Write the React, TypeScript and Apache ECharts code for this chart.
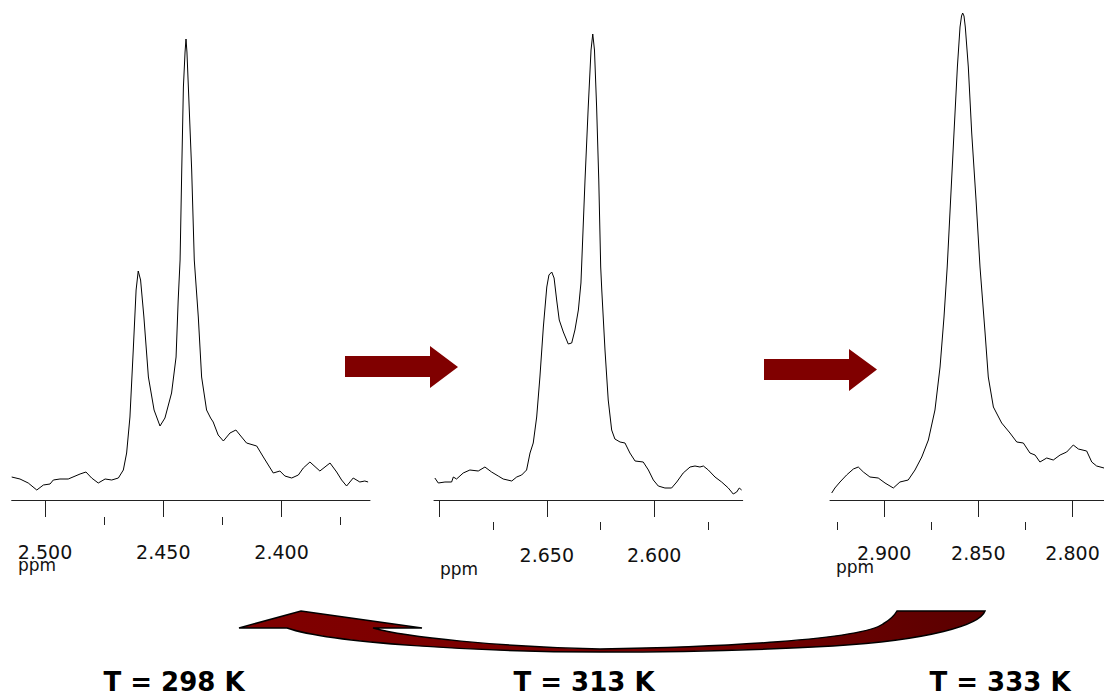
import React, { useEffect, useRef } from "react";
import * as echarts from "echarts";

// ---- T = 298 K spectrum (ppm, intensity a.u.)
const ppm298 = [2.5141, 2.5106, 2.5071, 2.5035, 2.5007, 2.4979, 2.4965, 2.4937, 2.4902, 2.4852, 2.4827, 2.4803, 2.4775, 2.4746, 2.4718, 2.469, 2.4669, 2.4655, 2.4641, 2.4627, 2.4615, 2.4606, 2.4596, 2.4582, 2.4563, 2.4539, 2.4514, 2.4493, 2.4465, 2.4446, 2.4437, 2.4429, 2.4422, 2.4415, 2.4408, 2.4404, 2.44, 2.4394, 2.438, 2.4369, 2.4352, 2.4338, 2.4317, 2.43, 2.4289, 2.4268, 2.4246, 2.4218, 2.4193, 2.4169, 2.4148, 2.4105, 2.4077, 2.4035, 2.4007, 2.3986, 2.3957, 2.3929, 2.3908, 2.388, 2.3838, 2.3795, 2.3767, 2.3746, 2.3725, 2.3697, 2.3669, 2.3648, 2.3634];
const int298 = [23, 21, 17, 10, 15, 16, 20, 21, 21, 26, 28, 22, 17, 21, 20, 22, 30, 47, 83, 150, 210, 229, 220, 183, 123, 90, 74, 82, 107, 143, 200, 240, 330, 413, 448, 461, 448, 413, 330, 240, 183, 123, 90, 82, 78, 65, 59, 67, 70, 63, 57, 54, 43, 27, 29, 24, 22, 25, 32, 38, 29, 37, 28, 20, 14, 22, 18, 19, 18];

// ---- T = 313 K spectrum
const ppm313 = [2.7021, 2.7005, 2.6974, 2.6943, 2.6935, 2.692, 2.6889, 2.6858, 2.6819, 2.6788, 2.6757, 2.6726, 2.6703, 2.6663, 2.664, 2.6617, 2.6594, 2.6578, 2.6563, 2.6547, 2.6532, 2.6516, 2.65, 2.649, 2.6477, 2.6466, 2.6454, 2.6442, 2.6423, 2.64, 2.6384, 2.6369, 2.6353, 2.6341, 2.6338, 2.6322, 2.6307, 2.6294, 2.6286, 2.6278, 2.6268, 2.6258, 2.6249, 2.6244, 2.6229, 2.6214, 2.6198, 2.6183, 2.6159, 2.6136, 2.6113, 2.6089, 2.6051, 2.6027, 2.6004, 2.5981, 2.595, 2.5919, 2.5895, 2.5865, 2.5833, 2.581, 2.5787, 2.5771, 2.5748, 2.5717, 2.5686, 2.5655, 2.5632, 2.5616, 2.5604, 2.5593];
const int313 = [22, 17, 18, 18, 23, 21, 27, 30, 29, 33, 28, 24, 21, 19, 23, 25, 30, 47, 57, 83, 123, 173, 213, 225, 228, 222, 200, 180, 168, 156, 157, 170, 190, 217, 233, 320, 393, 450, 466, 450, 393, 320, 233, 210, 150, 100, 70, 61, 58, 57, 47, 39, 38, 30, 20, 14, 12, 12, 18, 27, 33, 34, 33, 34, 30, 23, 18, 12, 6, 8, 12, 10];

// ---- T = 333 K spectrum
const ppm333 = [2.9278, 2.9261, 2.9234, 2.9199, 2.9163, 2.9137, 2.911, 2.9075, 2.9031, 2.8995, 2.8951, 2.8916, 2.8872, 2.8836, 2.88, 2.8765, 2.873, 2.8703, 2.8682, 2.8665, 2.8647, 2.8629, 2.8611, 2.8597, 2.8589, 2.8583, 2.8576, 2.8569, 2.8553, 2.8535, 2.8512, 2.8491, 2.8464, 2.8447, 2.842, 2.8376, 2.8332, 2.8296, 2.8261, 2.8226, 2.8199, 2.8173, 2.8137, 2.8102, 2.8066, 2.8031, 2.7996, 2.7969, 2.7925, 2.7898, 2.7872, 2.7833];
const int333 = [7, 12, 18, 25, 31, 33, 28, 23, 22, 17, 12, 18, 20, 30, 43, 60, 90, 133, 183, 233, 300, 367, 433, 473, 484, 487, 484, 473, 433, 367, 300, 233, 167, 123, 93, 77, 67, 58, 57, 47, 45, 38, 42, 40, 45, 48, 55, 51, 49, 38, 34, 32];

// ---- axis ticks (ppm)
const labels298 = [2.5, 2.45, 2.4];
const minor298 = [2.475, 2.425, 2.375];
const labels313 = [2.65, 2.6];
const major313 = [2.7, 2.65, 2.6];
const minor313 = [2.675, 2.625, 2.575];
const labels333 = [2.9, 2.85, 2.8];
const minor333 = [2.925, 2.875, 2.825];

const temperatures = ["T = 298 K", "T = 313 K", "T = 333 K"];
const unitLabel = "ppm";

const FONT = "DejaVu Sans";

export default function App() {
  const ref = useRef<HTMLDivElement>(null);
  useEffect(() => {
    document.body.style.margin = "0";
    const chart = echarts.init(ref.current!, null, { renderer: "svg" });

    const panels = [
      { ppm: ppm298, ints: int298, min: 2.3626, max: 2.5141, left: 11.7, width: 358.3, offset: 17, labels: labels298, major: labels298, minor: minor298, margin: 25 },
      { ppm: ppm313, ints: int313, min: 2.5588, max: 2.7025, left: 434, width: 308.7, offset: 22, labels: labels313, major: major313, minor: minor313, margin: 23 },
      { ppm: ppm333, ints: int333, min: 2.7833, max: 2.9287, left: 830, width: 274, offset: 22, labels: labels333, major: labels333, minor: minor333, margin: 21 },
    ];

    const grid: any[] = [];
    const xAxis: any[] = [];
    const yAxis: any[] = [];
    const series: any[] = [];
    panels.forEach((p, i) => {
      grid.push({ left: p.left, width: p.width, top: 0, height: 500 });
      xAxis.push({
        type: "value", gridIndex: i, min: p.min, max: p.max, inverse: true, position: "bottom", offset: p.offset,
        splitLine: { show: false },
        axisLine: { show: true, lineStyle: { color: "#222", width: 1 } },
        axisTick: { show: true, length: 17, customValues: p.major, lineStyle: { color: "#222", width: 1 } },
        axisLabel: { show: true, customValues: p.labels, formatter: (v: number) => v.toFixed(3), fontSize: 19, fontFamily: FONT, color: "#111", margin: p.margin },
      });
      xAxis.push({
        type: "value", gridIndex: i, min: p.min, max: p.max, inverse: true, position: "bottom", offset: p.offset,
        splitLine: { show: false },
        axisLine: { show: false },
        axisTick: { show: true, length: 8, customValues: p.minor, lineStyle: { color: "#222", width: 1 } },
        axisLabel: { show: false },
      });
      yAxis.push({ type: "value", gridIndex: i, min: 0, max: 500, show: false, splitLine: { show: false } });
      series.push({
        type: "line", xAxisIndex: i * 2, yAxisIndex: i, showSymbol: false, symbol: "none",
        data: p.ppm.map((x, k) => [x, p.ints[k]]),
        lineStyle: { color: "#000", width: 1 },
        silent: true,
      });
    });

    echarts.graphic.registerShape(
      "curvedArrow",
      echarts.graphic.extendPath(
        "M 239 628 L 301 611 L 422 628 L 373 628 C 405 637, 500 647, 600 649 C 720 647, 860 640, 883 624 Q 893 618, 897 611 L 985 611 C 980 625, 930 640, 833 646 C 760 650, 680 652, 600 652 C 480 652, 330 643, 287 628 Z",
        {}
      ) as any
    );

    const arrowStyle = { fill: "#800000", stroke: "none" };
    const tStyle = { fontSize: 26, fontWeight: "bold", fontFamily: FONT, fill: "#000", align: "center", verticalAlign: "middle" };
    const graphic: any[] = [
      { type: "text", left: 18, top: 556, style: { text: unitLabel, fontSize: 17, fontFamily: FONT, fill: "#111" } },
      { type: "text", left: 440, top: 560, style: { text: unitLabel, fontSize: 17, fontFamily: FONT, fill: "#111" } },
      { type: "text", left: 836, top: 558, style: { text: unitLabel, fontSize: 17, fontFamily: FONT, fill: "#111" } },
      { type: "polygon", shape: { points: [[345, 356], [430, 356], [430, 346], [458, 367], [430, 388], [430, 377], [345, 377]] }, style: arrowStyle },
      { type: "polygon", shape: { points: [[764, 359], [849, 359], [849, 349], [877, 369.5], [849, 391], [849, 380], [764, 380]] }, style: arrowStyle },
      {
        type: "curvedArrow", x: 0, y: 0, scaleX: 1, scaleY: 1,
        style: {
          fill: { type: "linear", x: 0, y: 0, x2: 1, y2: 0, colorStops: [{ offset: 0, color: "#800000" }, { offset: 0.6, color: "#780000" }, { offset: 1, color: "#5a0000" }] },
          stroke: "#000", lineWidth: 1.5,
        },
      },
      { type: "text", x: 174, y: 682, style: { ...tStyle, text: temperatures[0] } },
      { type: "text", x: 584, y: 682, style: { ...tStyle, text: temperatures[1] } },
      { type: "text", x: 1000, y: 682, style: { ...tStyle, text: temperatures[2] } },
    ];

    chart.setOption({
      animation: false,
      backgroundColor: "#fff",
      textStyle: { fontFamily: FONT },
      grid, xAxis, yAxis, series, graphic,
    });
    return () => chart.dispose();
  }, []);
  return <div ref={ref} style={{ width: 1104, height: 696 }} />;
}
